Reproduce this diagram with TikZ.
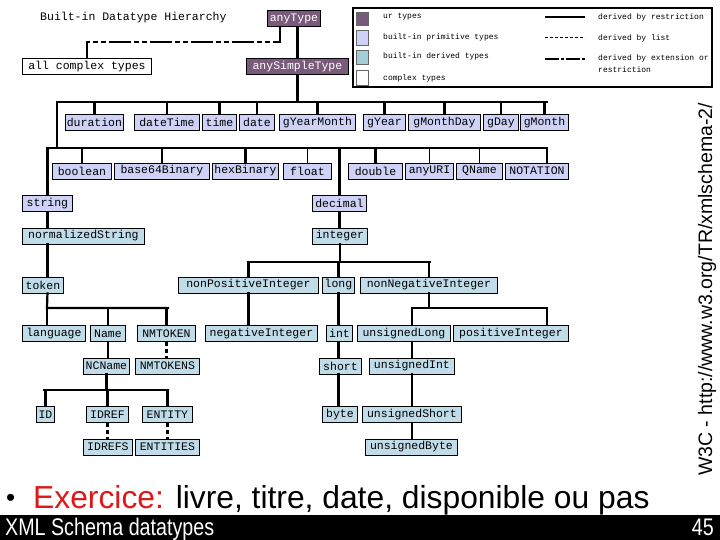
\documentclass[tikz,border=0pt]{standalone}
\usepackage{fontspec}
\setmainfont{Liberation Sans}
\newfontfamily\monofont{Liberation Mono}
\newfontfamily\narrowfont[FakeStretch=0.82]{Liberation Sans}
\usepackage{tikz}
\usetikzlibrary{calc}
\definecolor{urcol}{RGB}{122,90,122}
\definecolor{primcol}{RGB}{206,210,246}
\definecolor{dercol}{RGB}{192,220,232}
\definecolor{redtxt}{RGB}{222,24,24}
\tikzset{
	dtype/.style={draw=black, line width=0.9pt, minimum height=16pt, inner sep=0pt, anchor=west, font={\monofont\fontsize{11.5}{12}\selectfont}},
	urtype/.style={dtype, fill=urcol, text=white},
	primtype/.style={dtype, fill=primcol},
	dertype/.style={dtype, fill=dercol},
	cplxtype/.style={dtype, fill=white},
	bw/.style={minimum width=#1pt},
	restr/.style={line width=2.2pt, line cap=rect},
	thinrestr/.style={line width=1pt},
	listd/.style={line width=2.2pt, dash pattern=on 4pt off 3pt},
	extd/.style={line width=2.6pt, dash pattern=on 22pt off 3pt on 5pt off 3pt on 5pt off 3pt},
	legtxt/.style={anchor=west, inner sep=0pt, font={\monofont\fontsize{8}{12}\selectfont}},
}

\begin{document}
\begin{tikzpicture}[x=1pt, y=-1pt]
			%%%%% START %%%%%
			\useasboundingbox (0,0) rectangle (720,540);
			
			\node[anchor=west, inner sep=0pt, font={\monofont\fontsize{11.5}{12}\selectfont}] (title) at (40,18) {Built-in Datatype Hierarchy};
			
			% ur types and complex types
			\node[urtype, bw=53] (anyType) at (267,18.5) {anyType};
			\node[urtype, bw=102] (anySimpleType) at (246,66.5) {anySimpleType};
			\node[cplxtype, bw=129] (complex) at (22,66.5) {all complex types};
			
			% primitive types
			\node[primtype, bw=58] (duration) at (65,122.5) {duration};
			\node[primtype, bw=65] (dateTime) at (134,122.5) {dateTime};
			\node[primtype, bw=34] (time) at (202,122.5) {time};
			\node[primtype, bw=35] (date) at (239,122.5) {date};
			\node[primtype, bw=76] (gYearMonth) at (279,122.5) {gYearMonth};
			\node[primtype, bw=42] (gYear) at (363,122.5) {gYear};
			\node[primtype, bw=72] (gMonthDay) at (408,122.5) {gMonthDay};
			\node[primtype, bw=35] (gDay) at (483,122.5) {gDay};
			\node[primtype, bw=48] (gMonth) at (520,122.5) {gMonth};
			
			\node[primtype, bw=59] (boolean) at (52,171) {boolean};
			\node[primtype, bw=95] (base64Binary) at (114,171) {base64Binary};
			\node[primtype, bw=66] (hexBinary) at (212,171) {hexBinary};
			\node[primtype, bw=48] (float) at (283,171) {float};
			\node[primtype, bw=54] (double) at (348,171) {double};
			\node[primtype, bw=48] (anyURI) at (405,171) {anyURI};
			\node[primtype, bw=46] (QName) at (456,171) {QName};
			\node[primtype, bw=63] (NOTATION) at (505,171) {NOTATION};
			
			\node[primtype, bw=50] (string) at (22,203.5) {string};
			\node[primtype, bw=54] (decimal) at (312,203.5) {decimal};
			
			% derived types
			\node[dertype, bw=122] (normalizedString) at (22,236) {normalizedString};
			\node[dertype, bw=55] (integer) at (312,236) {integer};
			
			\node[dertype, bw=41] (token) at (22,285) {token};
			\node[dertype, bw=140] (nonPositiveInteger) at (178,285) {nonPositiveInteger};
			\node[dertype, bw=32] (long) at (322,285) {long};
			\node[dertype, bw=137] (nonNegativeInteger) at (360,285) {nonNegativeInteger};
			
			\node[dertype, bw=63] (language) at (22,333.5) {language};
			\node[dertype, bw=35] (Name) at (90,333.5) {Name};
			\node[dertype, bw=58] (NMTOKEN) at (137,333.5) {NMTOKEN};
			\node[dertype, bw=112] (negativeInteger) at (205,333.5) {negativeInteger};
			\node[dertype, bw=26] (int) at (326,333.5) {int};
			\node[dertype, bw=93] (unsignedLong) at (357,333.5) {unsignedLong};
			\node[dertype, bw=115] (positiveInteger) at (453,333.5) {positiveInteger};
			
			\node[dertype, bw=46] (NCName) at (83,366) {NCName};
			\node[dertype, bw=64] (NMTOKENS) at (135,366) {NMTOKENS};
			\node[dertype, bw=42] (short) at (319,366) {short};
			\node[dertype, bw=85] (unsignedInt) at (369,366) {unsignedInt};
			
			\node[dertype, bw=18] (ID) at (36,414.5) {ID};
			\node[dertype, bw=42] (IDREF) at (86,414.5) {IDREF};
			\node[dertype, bw=50] (ENTITY) at (142,414.5) {ENTITY};
			\node[dertype, bw=35] (byte) at (322,414.5) {byte};
			\node[dertype, bw=99] (unsignedShort) at (362,414.5) {unsignedShort};
			
			\node[dertype, bw=49] (IDREFS) at (83,447) {IDREFS};
			\node[dertype, bw=64] (ENTITIES) at (135,447) {ENTITIES};
			\node[dertype, bw=92] (unsignedByte) at (365,447) {unsignedByte};
			
			% bus lines
			\coordinate (busTop) at (57,102);
			\coordinate (busTopR) at (547,102);
			\coordinate (busPrim) at (47,148);
			\coordinate (busPrimR) at (547,148);
			\coordinate (busInt) at (248,262);
			\coordinate (busIntR) at (430,262);
			\coordinate (busTok) at (47,308);
			\coordinate (busTokR) at (168,308);
			\coordinate (busUL) at (412,308);
			\coordinate (busULR) at (547,308);
			\coordinate (busNC) at (44,390);
			\coordinate (busNCR) at (168,390);
			
			\draw[restr] (anyType.south -| anySimpleType.north) -- (anySimpleType.north);
			\draw[extd] ([xshift=-14pt]anyType.south) -- ++(0,15) -| (complex.north);
			
			\draw[restr] (anySimpleType.south) -- (anySimpleType.south |- busTop);
			\draw[restr] (busTopR) -- (busTop) -- (busTop |- busPrim);
			\foreach \t in {duration,dateTime,time,date,gYearMonth,gYear,gMonthDay,gDay,gMonth}
				\draw[restr] (\t.north) -- (\t.north |- busTop);
			
			\draw[restr] (busPrim) -- (busPrimR) -- (busPrimR |- NOTATION.north);
			\foreach \t in {boolean,base64Binary,hexBinary,double,string,decimal}
				\draw[restr] (\t.north) -- (\t.north |- busPrim);
			\foreach \t in {float,anyURI,QName}
				\draw[thinrestr] (\t.north) -- (\t.north |- busPrim);
			
			% string branch
			\draw[restr] (string.south) -- (string.south |- normalizedString.north);
			\draw[restr] (string.south |- normalizedString.south) -- (string.south |- token.north);
			\draw[restr] (string.south |- token.south) -- (busTok) -- (busTokR);
			\draw[restr] (busTok) -- (busTok |- language.north);
			\draw[restr] (Name.north) -- (Name.north |- busTok);
			\draw[restr] (NMTOKEN.north) -- (NMTOKEN.north |- busTok);
			\draw[restr] (Name.south) -- (Name.south |- NCName.north);
			\draw[listd] (NMTOKEN.south) -- (NMTOKEN.south |- NMTOKENS.north);
			\draw[restr] (NCName.south) -- (NCName.south |- busNC);
			\draw[restr] (busNC) -- (busNCR);
			\foreach \t in {ID,IDREF,ENTITY}
				\draw[restr] (\t.north) -- (\t.north |- busNC);
			\draw[listd] (IDREF.south) -- (IDREF.south |- IDREFS.north);
			\draw[listd] (ENTITY.south) -- (ENTITY.south |- ENTITIES.north);
			
			% decimal branch
			\draw[restr] (decimal.south) -- (decimal.south |- integer.north);
			\draw[restr] (integer.south) -- (integer.south |- busInt);
			\draw[restr] (busInt) -- (busIntR);
			\foreach \t in {nonPositiveInteger,long,nonNegativeInteger}
				\draw[restr] (\t.north) -- (\t.north |- busInt);
			\draw[restr] (nonPositiveInteger.south) -- (nonPositiveInteger.south |- negativeInteger.north);
			\draw[restr] (long.south) -- (long.south |- int.north);
			\draw[restr] (long.south |- int.south) -- (long.south |- short.north);
			\draw[restr] (long.south |- short.south) -- (long.south |- byte.north);
			\draw[restr] (nonNegativeInteger.south) -- (nonNegativeInteger.south |- busUL);
			\draw[restr] (busUL |- unsignedLong.north) -- (busUL) -- (busULR) -- (busULR |- positiveInteger.north);
			\draw[restr] (busUL |- unsignedLong.south) -- (busUL |- unsignedInt.north);
			\draw[restr] (busUL |- unsignedInt.south) -- (busUL |- unsignedShort.north);
			\draw[restr] (busUL |- unsignedShort.south) -- (busUL |- unsignedByte.north);
			
			% legend
			\draw[line width=1.5pt] (353,8) rectangle (712,87);
			\draw[fill=urcol, draw=black!60] (356,12) rectangle (368,25);
			\draw[fill=primcol, draw=black!60] (356,30) rectangle (368,45);
			\draw[fill=dercol!85!teal, draw=black!60] (356,50) rectangle (368,64);
			\draw[fill=white, draw=black!60] (356,70) rectangle (368,85);
			\node[legtxt] (lgUr) at (383,17) {ur types};
			\node[legtxt] (lgPrim) at (383,37) {built-in primitive types};
			\node[legtxt] (lgDer) at (383,56) {built-in derived types};
			\node[legtxt] (lgCplx) at (383,78) {complex types};
			\draw[line width=1.6pt] (545,17) -- (585,17);
			\draw[line width=1pt, dash pattern=on 3pt off 2pt] (545,38) -- (585,38);
			\draw[line width=1.2pt, dash pattern=on 14pt off 2pt on 3pt off 2pt] (545,59) -- (585,59);
			\node[legtxt] (lgRestr) at (598,17) {derived by restriction};
			\node[legtxt] (lgList) at (598,38) {derived by list};
			\node[legtxt, anchor=north west, align=left] (lgExt) at (598,55) {derived by extension or\\restriction};
			
			% slide text
			\node[rotate=90, anchor=base west, inner sep=0pt, font=\fontsize{19.5}{24}\selectfont] (source) at (712,476) {W3C - http://www.w3.org/TR/xmlschema-2/};
			\node[anchor=base west, inner sep=0pt, font=\fontsize{26}{30}\selectfont] (bullet) at (6,506) {\textbullet};
			\node[anchor=base west, inner sep=0pt, font=\fontsize{31.8}{36}\selectfont] (exercice) at (33,508) {\textcolor{redtxt}{Exercice:} livre, titre, date, disponible ou pas};
			
			\fill[black] (0,515) rectangle (720,540);
			\node[anchor=base west, inner sep=0pt, text=white, font={\narrowfont\fontsize{24}{28}\selectfont}] (footer) at (5,535) {XML Schema datatypes};
			\node[anchor=base east, inner sep=0pt, text=white, font={\narrowfont\fontsize{24}{28}\selectfont}] (pageno) at (714,535) {45};
			%%%%% END %%%%%
\end{tikzpicture}
\end{document}
